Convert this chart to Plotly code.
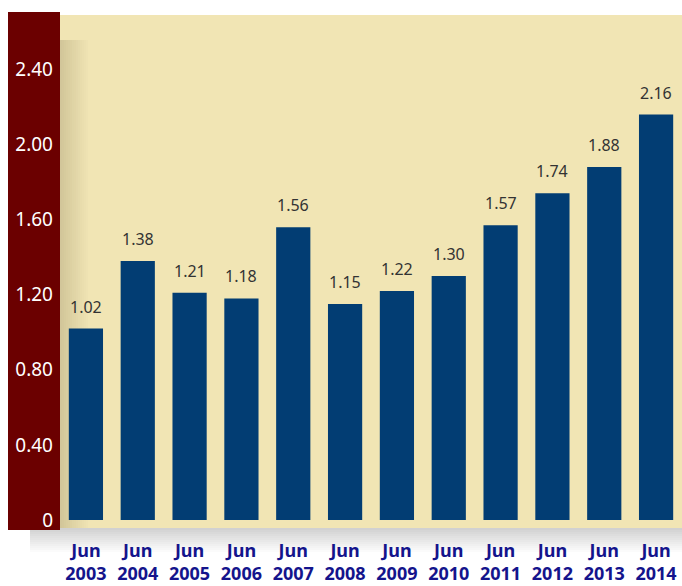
import plotly.graph_objects as go

# ---- data ----
categories = ["Jun<br>2003", "Jun<br>2004", "Jun<br>2005", "Jun<br>2006", "Jun<br>2007", "Jun<br>2008",
              "Jun<br>2009", "Jun<br>2010", "Jun<br>2011", "Jun<br>2012", "Jun<br>2013", "Jun<br>2014"]
values = [1.02, 1.38, 1.21, 1.18, 1.56, 1.15, 1.22, 1.30, 1.57, 1.74, 1.88, 2.16]
ytick_vals = [0, 0.4, 0.8, 1.2, 1.6, 2.0, 2.4]
ytick_text = ["0", "0.40", "0.80", "1.20", "1.60", "2.00", "2.40"]

W, H = 682, 586
ML, MR, MT, MB = 60, 0, 15, 58
PW, PH = W - ML - MR, H - MT - MB

def px(p):
    return (p - ML) / PW

def py(p):
    return (H - MB - p) / PH

BEIGE = "#F1E5B4"
shapes = []
# beige plot background
shapes.append(dict(type="rect", xref="paper", yref="paper", x0=0, x1=1, y0=0, y1=1,
                   fillcolor=BEIGE, line=dict(width=0), layer="below"))
# left inner shadow on beige
n = 14
for i in range(n):
    x0 = 60 + i * 2
    op = 0.26 * (1 - i / n)
    shapes.append(dict(type="rect", xref="paper", yref="paper", x0=px(x0), x1=px(x0 + 2),
                       y0=py(528), y1=py(40), fillcolor="#7a7050", opacity=op,
                       line=dict(width=0), layer="below"))
# shadow under plot
m = 12
for i in range(m):
    y0 = 528 + i * 2
    op = 0.32 * (1 - i / m)
    shapes.append(dict(type="rect", xref="paper", yref="paper", x0=px(30), x1=px(682),
                       y0=py(y0 + 2), y1=py(y0), fillcolor="#707070", opacity=op,
                       line=dict(width=0), layer="below"))
# dark red axis strip
shapes.append(dict(type="rect", xref="paper", yref="paper", x0=px(8), x1=px(60),
                   y0=py(530), y1=py(12), fillcolor="#6B0000", line=dict(width=0), layer="below"))

fig = go.Figure(go.Bar(
    x=categories, y=values,
    marker=dict(color="#023D73", line=dict(width=0)),
    hoverinfo="x+y",
))

annotations = [
    dict(x=c, y=v, xref="x", yref="y", text=f"{v:.2f}", showarrow=False,
         yanchor="bottom", yshift=9,
         font=dict(family="Noto Sans", size=16, color="#333333"))
    for c, v in zip(categories, values)
]

fig.update_layout(
    width=W, height=H,
    margin=dict(l=ML, r=MR, t=MT, b=MB),
    paper_bgcolor="white", plot_bgcolor="rgba(0,0,0,0)",
    shapes=shapes, annotations=annotations, bargap=0.34, showlegend=False,
    xaxis=dict(range=[-0.5, 11.5], showgrid=False, zeroline=False, showline=False,
               ticks="", tickfont=dict(family="Noto Sans", size=18, color="#14148C", weight="bold"),
               ticklabelstandoff=10, tickangle=0, automargin=False),
    yaxis=dict(range=[-0.0427, 2.69], showgrid=False, zeroline=False, showline=False,
               tickvals=ytick_vals, ticktext=ytick_text, ticks="",
               tickfont=dict(family="Noto Sans", size=19, color="white"),
               ticklabelstandoff=6, automargin=False),
)

fig.write_html("out.html", config={"displayModeBar": False},
               post_script="document.body.style.margin='0';document.body.style.overflow='hidden';")
